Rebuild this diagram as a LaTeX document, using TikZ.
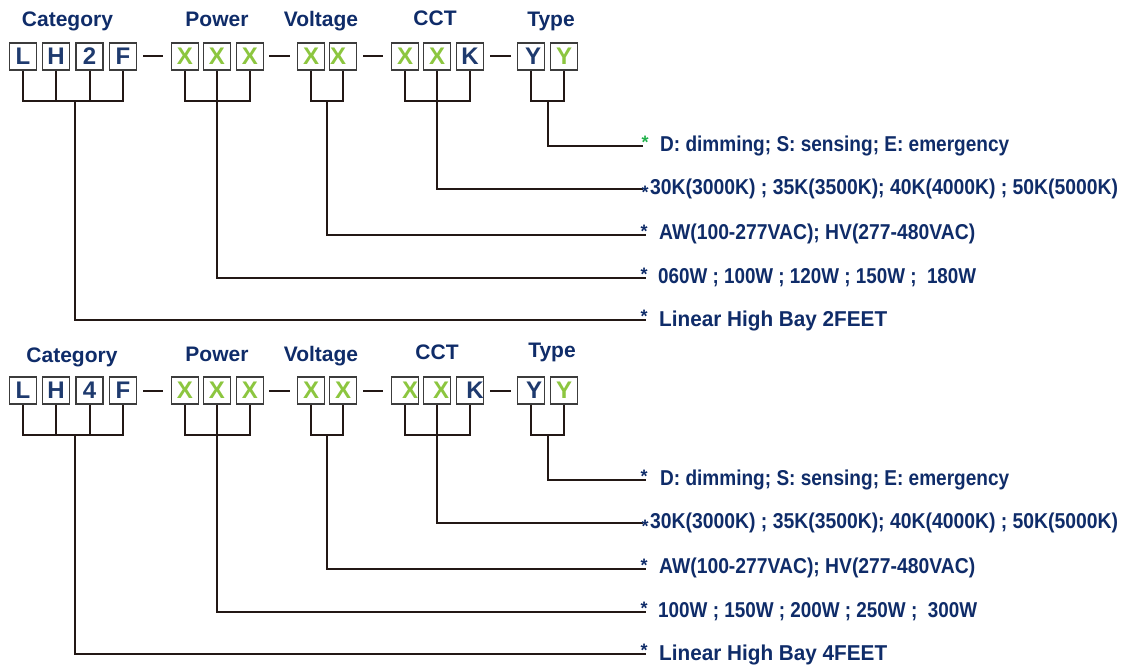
\documentclass[tikz,border=0pt]{standalone}
\usepackage{fontspec}
\setmainfont{Liberation Sans}[BoldFont={Liberation Sans Bold}]
\usepackage{graphicx}
\definecolor{navy}{HTML}{0F2C69}
\definecolor{boxnavy}{HTML}{1E3A6E}
\definecolor{lgreen}{HTML}{8CC63F}
\definecolor{sgreen}{HTML}{22B24C}
\definecolor{wire}{HTML}{231815}
\definecolor{boxline}{HTML}{3C3C3C}
\newcommand{\shiftlet}[2]{\hspace*{#1}#2\hspace*{-#1}}
\tikzset{
  cbox/.style={draw=boxline, line width=1.4pt, minimum width=27pt, minimum height=27pt,
    inner sep=0pt, font=\fontsize{24}{24}\selectfont\bfseries},
  nv/.style={cbox, text=boxnavy},
  gr/.style={cbox, text=lgreen},
  hdr/.style={anchor=base, inner sep=0pt, text=navy, font=\fontsize{21}{21}\selectfont\bfseries},
  desc/.style={anchor=base west, inner sep=0pt, text=navy, font=\fontsize{21.5}{21}\selectfont\bfseries},
  starmark/.style={anchor=base, inner sep=0pt, font=\fontsize{18}{18}\selectfont\bfseries},
  wireline/.style={draw=wire, line width=2pt},
}
\begin{document}
\begin{tikzpicture}[x=1pt,y=-1pt]
\useasboundingbox (0,0) rectangle (1121,666);
\fill[white] (0,0) rectangle (1121,666);

% ================= Block A =================
\node[hdr] (aHc) at (67.5,27) {Category};
\node[hdr] (aHp) at (217,27) {Power};
\node[hdr] (aHv) at (321,27) {Voltage};
\node[hdr] (aHt) at (435,26) {CCT};
\node[hdr] (aHy) at (551,27) {Type};

\node[nv] (aL) at (23,56.5) {L};
\node[nv] (aH) at (56,56.5) {H};
\node[nv] (aN) at (89.5,56.5) {2};
\node[nv] (aF) at (123,56.5) {F};
\node[gr] (aP1) at (185,56.5) {X};
\node[gr] (aP2) at (217,56.5) {X};
\node[gr] (aP3) at (250,56.5) {X};
\node[gr] (aV1) at (311,56.5) {X};
\node[gr] (aV2) at (343,56.5) {\shiftlet{-5pt}{X}};
\node[gr] (aC1) at (405,56.5) {X};
\node[gr] (aC2) at (437,56.5) {X};
\node[nv] (aC3) at (470,56.5) {K};
\node[nv] (aY1) at (531,56.5) {\shiftlet{2pt}{Y}};
\node[gr] (aY2) at (564,56.5) {Y};

\coordinate (aD1s) at (143,56.5); \coordinate (aD1e) at (163,56.5);
\coordinate (aD2s) at (269,56.5); \coordinate (aD2e) at (290,56.5);
\coordinate (aD3s) at (363,56.5); \coordinate (aD3e) at (383,56.5);
\coordinate (aD4s) at (490,56.5); \coordinate (aD4e) at (511,56.5);
\foreach \d in {1,2,3,4} \draw[wireline] (aD\d s) -- (aD\d e);

\coordinate (aBc) at (75,101);
\coordinate (aBp) at (217,101);
\coordinate (aBv) at (327,101);
\coordinate (aBt) at (437,101);
\coordinate (aBy) at (548,101);

\draw[wireline] (aL.south) |- (aF.south |- aBc) -- (aF.south);
\draw[wireline] (aH.south) -- (aH.south |- aBc);
\draw[wireline] (aN.south) -- (aN.south |- aBc);
\draw[wireline] (aP1.south) |- (aP3.south |- aBp) -- (aP3.south);
\draw[wireline] (aP2.south) -- (aBp);
\draw[wireline] (aV1.south) |- (aV2.south |- aBv) -- (aV2.south);
\draw[wireline] (aC1.south) |- (aC3.south |- aBt) -- (aC3.south);
\draw[wireline] (aC2.south) -- (aBt);
\draw[wireline] (aY1.south) |- (aY2.south |- aBy) -- (aY2.south);

\coordinate (aR1) at (643,146);
\coordinate (aR2) at (643,189);
\coordinate (aR3) at (646,235);
\coordinate (aR4) at (646,278);
\coordinate (aR5) at (646,320);
\draw[wireline] (aBy) |- (aR1);
\draw[wireline] (aBt) |- (aR2);
\draw[wireline] (aBv) |- (aR3);
\draw[wireline] (aBp) |- (aR4);
\draw[wireline] (aBc) |- (aR5);

\node[starmark,text=sgreen] (aS1) at (645,148.5) {*};
\node[starmark,text=navy] (aS2) at (645,198) {*};
\node[starmark,text=navy] (aS3) at (644,237.5) {*};
\node[starmark,text=navy] (aS4) at (644,280.5) {*};
\node[starmark,text=navy] (aS5) at (644,322.5) {*};

\node[desc] (aT1) at (660,151) {\resizebox{349pt}{\height}{D: dimming; S: sensing; E: emergency}};
\node[desc] (aT2) at (650,194) {\resizebox{468pt}{\height}{30K(3000K) ; 35K(3500K); 40K(4000K) ; 50K(5000K)}};
\node[desc] (aT3) at (659,239) {\resizebox{316pt}{\height}{AW(100-277VAC); HV(277-480VAC)}};
\node[desc] (aT4) at (658,283) {\resizebox{318pt}{\height}{060W ; 100W ; 120W ; 150W ;\ \ 180W}};
\node[desc] (aT5) at (659,326) {\resizebox{228pt}{\height}{Linear High Bay 2FEET}};

% ================= Block B =================
\begin{scope}[shift={(0,334)}]
\node[hdr] (bHc) at (72,28) {Category};
\node[hdr] (bHp) at (217,27) {Power};
\node[hdr] (bHv) at (321,27) {Voltage};
\node[hdr] (bHt) at (437,25) {CCT};
\node[hdr] (bHy) at (552,23) {Type};

\node[nv] (bL) at (23,56.5) {L};
\node[nv] (bH) at (56,56.5) {H};
\node[nv] (bN) at (89.5,56.5) {4};
\node[nv] (bF) at (123,56.5) {F};
\node[gr] (bP1) at (185,56.5) {X};
\node[gr] (bP2) at (217,56.5) {X};
\node[gr] (bP3) at (250,56.5) {X};
\node[gr] (bV1) at (311,56.5) {X};
\node[gr] (bV2) at (343,56.5) {X};
\node[gr] (bC1) at (405,56.5) {\shiftlet{5pt}{X}};
\node[gr] (bC2) at (437,56.5) {\shiftlet{4pt}{X}};
\node[nv] (bC3) at (470,56.5) {\shiftlet{5pt}{K}};
\node[nv] (bY1) at (531,56.5) {\shiftlet{3pt}{Y}};
\node[gr] (bY2) at (564,56.5) {Y};

\coordinate (bD1s) at (143,56.5); \coordinate (bD1e) at (163,56.5);
\coordinate (bD2s) at (269,56.5); \coordinate (bD2e) at (290,56.5);
\coordinate (bD3s) at (363,56.5); \coordinate (bD3e) at (383,56.5);
\coordinate (bD4s) at (490,56.5); \coordinate (bD4e) at (511,56.5);
\foreach \d in {1,2,3,4} \draw[wireline] (bD\d s) -- (bD\d e);

\coordinate (bBc) at (75,101);
\coordinate (bBp) at (217,101);
\coordinate (bBv) at (327,101);
\coordinate (bBt) at (437,101);
\coordinate (bBy) at (548,101);

\draw[wireline] (bL.south) |- (bF.south |- bBc) -- (bF.south);
\draw[wireline] (bH.south) -- (bH.south |- bBc);
\draw[wireline] (bN.south) -- (bN.south |- bBc);
\draw[wireline] (bP1.south) |- (bP3.south |- bBp) -- (bP3.south);
\draw[wireline] (bP2.south) -- (bBp);
\draw[wireline] (bV1.south) |- (bV2.south |- bBv) -- (bV2.south);
\draw[wireline] (bC1.south) |- (bC3.south |- bBt) -- (bC3.south);
\draw[wireline] (bC2.south) -- (bBt);
\draw[wireline] (bY1.south) |- (bY2.south |- bBy) -- (bY2.south);

\coordinate (bR1) at (646,146);
\coordinate (bR2) at (643,189);
\coordinate (bR3) at (646,235);
\coordinate (bR4) at (646,278);
\coordinate (bR5) at (646,320);
\draw[wireline] (bBy) |- (bR1);
\draw[wireline] (bBt) |- (bR2);
\draw[wireline] (bBv) |- (bR3);
\draw[wireline] (bBp) |- (bR4);
\draw[wireline] (bBc) |- (bR5);

\node[starmark,text=navy] (bS1) at (644,148.5) {*};
\node[starmark,text=navy] (bS2) at (645,198) {*};
\node[starmark,text=navy] (bS3) at (644,237.5) {*};
\node[starmark,text=navy] (bS4) at (644,280.5) {*};
\node[starmark,text=navy] (bS5) at (644,322.5) {*};

\node[desc] (bT1) at (660,151) {\resizebox{349pt}{\height}{D: dimming; S: sensing; E: emergency}};
\node[desc] (bT2) at (650,194) {\resizebox{468pt}{\height}{30K(3000K) ; 35K(3500K); 40K(4000K) ; 50K(5000K)}};
\node[desc] (bT3) at (659,239) {\resizebox{316pt}{\height}{AW(100-277VAC); HV(277-480VAC)}};
\node[desc] (bT4) at (658,283) {\resizebox{319pt}{\height}{100W ; 150W ; 200W ; 250W ;\ \ 300W}};
\node[desc] (bT5) at (659,326) {\resizebox{228pt}{\height}{Linear High Bay 4FEET}};
\end{scope}
\end{tikzpicture}
\end{document}
